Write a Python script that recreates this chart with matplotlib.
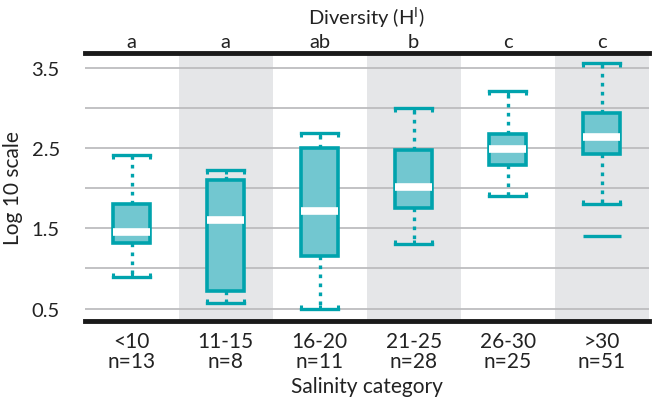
import matplotlib
matplotlib.use("Agg")
import matplotlib.pyplot as plt

categories = ["<10", "11-15", "16-20", "21-25", "26-30", ">30"]
counts = [13, 8, 11, 28, 25, 51]
letters = ["a", "a", "ab", "b", "c", "c"]

q1 = [1.32, 0.72, 1.16, 1.75, 2.29, 2.43]
med = [1.45, 1.60, 1.72, 2.02, 2.49, 2.64]
q3 = [1.80, 2.10, 2.51, 2.48, 2.68, 2.94]
whislo = [0.89, 0.57, 0.49, 1.30, 1.90, 1.81]
whishi = [2.42, 2.23, 2.69, 3.00, 3.21, 3.57]
outliers = [[], [], [], [], [], [1.40]]

teal = "#00a3ad"
fill = "#72c7d0"
band = "#e5e6e8"
txt = "#222222"

plt.rcParams["font.family"] = ["Lato", "DejaVu Sans"]

fig = plt.figure(figsize=(6.52, 4.06), dpi=100)
ax = fig.add_axes([0.130, 0.207, 0.865, 0.660])

pos = list(range(len(categories)))
for i in pos:
    if i % 2 == 1:
        ax.axvspan(i - 0.5, i + 0.5, color=band, lw=0, zorder=0)

for v in [0.5, 1.0, 1.5, 2.0, 2.5, 3.0, 3.5]:
    ax.axhline(v, color="#bdbdbf", lw=1.3, zorder=1)

stats = []
for i in pos:
    stats.append(dict(q1=q1[i], med=med[i], q3=q3[i], whislo=whislo[i],
                      whishi=whishi[i], fliers=outliers[i]))

w = 0.39
ax.bxp(stats, positions=pos, widths=w, patch_artist=True, showfliers=True,
       boxprops=dict(facecolor=fill, edgecolor=teal, lw=2.6),
       medianprops=dict(color="white", lw=5.5, solid_capstyle="butt"),
       whiskerprops=dict(color=teal, lw=2.4, linestyle=(0, (1.1, 1.6))),
       capprops=dict(color=teal, lw=2.4),
       capwidths=w,
       flierprops=dict(marker="_", markersize=27, markeredgewidth=2.4,
                       markeredgecolor=teal),
       zorder=3)

# short bracket ticks at cap ends, pointing toward the box
tick = 0.05
for i in pos:
    for y, d in [(whishi[i], -tick), (whislo[i], tick)]:
        for x in [i - w / 2, i, i + w / 2]:
            ax.plot([x, x], [y, y + d], color=teal, lw=2.2, zorder=3,
                    solid_capstyle="butt")

ax.set_xlim(-0.5, len(categories) - 0.5)
ax.set_ylim(0.345, 3.69)
ax.set_yticks([0.5, 1.5, 2.5, 3.5])
ax.set_yticklabels(["0.5", "1.5", "2.5", "3.5"])
ax.set_xticks(pos)
ax.set_xticklabels([c + "\nn=" + str(n) for c, n in zip(categories, counts)],
                   linespacing=1.0)
ax.tick_params(length=0, colors=txt)
ax.tick_params(axis="x", labelsize=15, pad=7)
ax.tick_params(axis="y", labelsize=14.5, pad=18)

for s in ["left", "right"]:
    ax.spines[s].set_visible(False)
for s in ["top", "bottom"]:
    ax.spines[s].set_linewidth(3.5)
    ax.spines[s].set_color("#1a1a1a")
    ax.spines[s].set_zorder(5)

for i in pos:
    ax.text(i, 1.012, letters[i], transform=ax.get_xaxis_transform(),
            ha="center", va="bottom", fontsize=14.5, color=txt)

ax.set_title("Diversity (H$^\\mathregular{I}$)", fontsize=14.5, pad=21,
             color=txt)
ax.set_ylabel("Log 10 scale", fontsize=15, color=txt, labelpad=6)
ax.set_xlabel("Salinity category", fontsize=15, color=txt, labelpad=4)

fig.savefig("out.png", dpi=100)
